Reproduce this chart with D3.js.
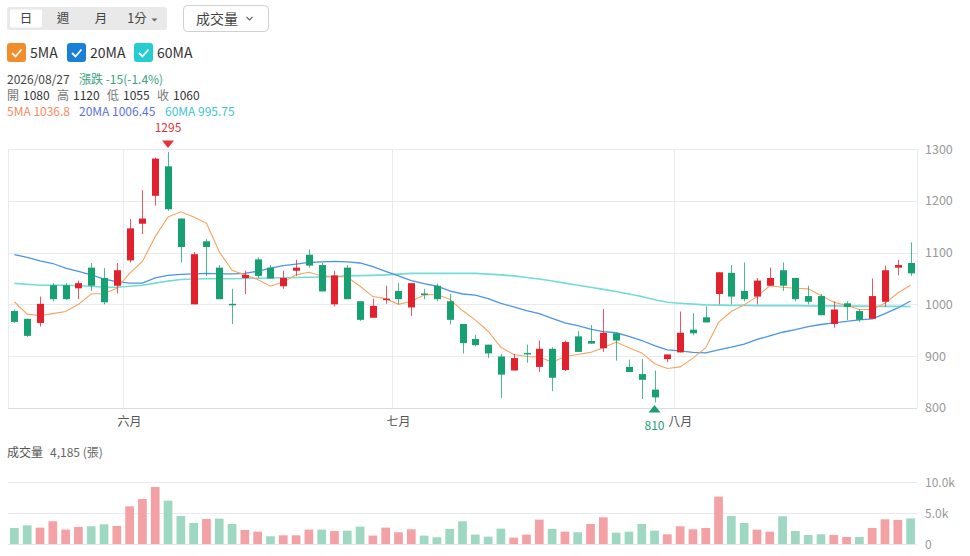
<!DOCTYPE html>
<html>

<head>
    <meta charset="utf-8">
    <style type="text/css">
        body {
            margin: 0;
            background: #fff;
        }

        svg text {
            font-family: "Noto Sans CJK TC", "Noto Sans", sans-serif;
        }

        .grid line {
            stroke: #e8eaf0;
            stroke-width: 1;
        }
    </style>
</head>

<body>
    <div id="canvas"></div>

    <script type="text/javascript" src="https://cdn.jsdelivr.net/npm/d3@7/dist/d3.min.js"></script>
    <script type="text/javascript">
        // daily candles
        var open = [987, 972, 964, 1037, 1037, 1031, 1071, 1051, 1036, 1085, 1156, 1210, 1267, 1166, 1000, 1122, 1071, 1001,
            1051, 1087, 1071, 1035, 1065, 1096, 1076, 1000, 1071, 1006, 974, 1010, 1026, 994, 1021, 1036, 1006, 962,
            933, 922, 899, 872, 906, 879, 914, 873, 938, 929, 915, 944, 879, 865, 835, 894, 907, 951,
            975, 1020, 1061, 1026, 1015, 1036, 1066, 1051, 1016, 1016, 962, 1002, 987, 972, 1005, 1071, 1080];
        var close = [966, 939, 1001, 1010, 1010, 1041, 1036, 1004, 1066, 1147, 1166, 1282, 1184, 1111, 1097, 1111, 1010, 999,
            1057, 1055, 1050, 1051, 1071, 1075, 1025, 1056, 1010, 970, 997, 1011, 1010, 1041, 1020, 1010, 970, 925,
            921, 905, 864, 896, 905, 914, 858, 927, 908, 924, 945, 930, 869, 854, 820, 903, 945, 944,
            965, 1062, 1015, 1010, 1046, 1051, 1036, 1010, 1005, 979, 990, 995, 970, 1016, 1066, 1076, 1060];
        var high = [990, 972, 1015, 1041, 1041, 1046, 1080, 1070, 1080, 1165, 1221, 1284, 1295, 1166, 1101, 1126, 1076, 1030,
            1065, 1091, 1076, 1065, 1086, 1106, 1080, 1065, 1076, 1006, 1011, 1036, 1041, 1041, 1030, 1040, 1020, 962,
            941, 922, 904, 904, 922, 930, 917, 930, 948, 960, 991, 945, 893, 894, 872, 903, 986, 983,
            996, 1062, 1076, 1081, 1051, 1071, 1081, 1051, 1036, 1020, 1006, 1006, 991, 1050, 1075, 1086, 1120];
        var low = [964, 937, 957, 1006, 1009, 1010, 1026, 1000, 1021, 1081, 1136, 1191, 1181, 1081, 1000, 1055, 1010, 962,
            1020, 1051, 1049, 1030, 1055, 1071, 1025, 996, 1010, 968, 974, 1001, 1000, 978, 1010, 1006, 961, 905,
            919, 896, 819, 872, 887, 869, 832, 871, 908, 924, 908, 891, 869, 817, 810, 888, 907, 940,
            965, 1000, 1000, 1006, 1000, 1036, 1026, 1006, 1000, 979, 955, 970, 966, 972, 995, 1056, 1055];

        // moving averages as drawn
        var ma5 = [1005, 981, 978, 982, 986, 1000, 1020, 1021, 1031, 1060, 1083, 1131, 1169, 1179, 1169, 1157, 1102, 1066,
            1057, 1048, 1035, 1043, 1057, 1062, 1055, 1054, 1053, 1035, 1015, 1011, 1000, 1006, 1018, 1019, 1010, 988,
            970, 948, 917, 903, 899, 898, 888, 899, 903, 907, 916, 927, 916, 906, 885, 876, 879, 896,
            916, 965, 986, 999, 1015, 1036, 1033, 1031, 1030, 1017, 1004, 998, 990, 990, 1002, 1022, 1036.8];
        var ma20 = [1096, 1091, 1084, 1079, 1070, 1064, 1057, 1049, 1044, 1041, 1041, 1051, 1056, 1058, 1059, 1060, 1059, 1059,
            1060, 1064, 1070, 1075, 1078, 1081, 1082, 1083, 1082, 1080, 1073, 1064, 1055, 1046, 1040, 1035, 1026, 1020,
            1018, 1011, 1002, 995, 988, 982, 973, 964, 959, 952, 947, 945, 938, 930, 920, 912, 910, 907,
            906, 912, 917, 923, 932, 939, 946, 951, 957, 961, 964, 967, 970, 972, 982, 993, 1006.45];
        var ma60 = [1040.5, 1039, 1037, 1037, 1037, 1036, 1035, 1033, 1033, 1035, 1037, 1041, 1045, 1048, 1049, 1049.5, 1049.5, 1049.5,
            1050, 1050.5, 1051, 1051.5, 1052, 1052.5, 1053, 1054, 1055, 1055.5, 1056, 1057, 1058.5, 1060, 1060, 1060, 1060, 1060,
            1060, 1058.5, 1057, 1055, 1052, 1049, 1045, 1041, 1037, 1033, 1029, 1025, 1020, 1015, 1009, 1004, 1002, 1000.5,
            999, 998.5, 998, 998, 997.5, 997.5, 997.5, 997.5, 997, 997, 997, 996.5, 996.5, 996, 996, 996, 995.75];

        // volume in 張, and whether the day closed up (red) or down (green)
        var volume = [2630, 3060, 2690, 3710, 2370, 2800, 2900, 3230, 2960, 6130, 7300, 9250, 7040, 4570, 3440, 4090, 4140, 3280,
            2310, 2040, 1290, 1450, 1450, 2370, 2370, 2150, 2200, 2850, 1400, 2690, 1940, 2420, 1400, 1130, 2470, 3710,
            1560, 1240, 2530, 1080, 1560, 3980, 2470, 2040, 1940, 3280, 4350, 1880, 2040, 3280, 2200, 1610, 2900, 2420,
            2630, 7690, 4570, 3440, 2370, 2040, 4520, 2150, 1510, 1610, 1510, 1180, 1180, 2630, 4030, 3920, 4185];
        var volUp = [0, 0, 1, 1, 1, 1, 0, 0, 1, 1, 1, 1, 0, 0, 0, 1, 0, 0,
            1, 1, 0, 1, 1, 1, 0, 1, 0, 0, 1, 1, 1, 1, 0, 0, 0, 0,
            0, 0, 0, 1, 1, 1, 0, 1, 0, 1, 1, 0, 0, 0, 0, 1, 1, 1,
            1, 1, 0, 0, 1, 1, 0, 0, 0, 0, 1, 1, 0, 1, 1, 1, 0];

        var monthLabels = ['六月', '七月', '八月'];
        var monthStart = [9, 30, 52];
        var priceTicks = [800, 900, 1000, 1100, 1200, 1300];
        var volTicks = [0, 5000, 10000];
        var volTickLabels = ['0', '5.0k', '10.0k'];

        var RED = '#e3212d', GREEN = '#17a072';
        var RED_V = '#f3a1a5', GREEN_V = '#9fd8c2';

        var svg = d3.select('#canvas').append('svg')
            .attr('width', 970)
            .attr('height', 556);

        var idx = d3.range(open.length);
        var x = d3.scaleBand().domain(idx).range([8, 917]);
        var cx = function (i) { return x(i) + x.bandwidth() / 2; };
        var y = d3.scaleLinear().domain([800, 1300]).range([407.7, 149.3]);
        var yv = d3.scaleLinear().domain([0, 10000]).range([544.3, 482.3]);

        // ---- top controls ----
        var ctrl = svg.append('g');
        ctrl.append('rect').attr('x', 7).attr('y', 7).attr('width', 160).attr('height', 23).attr('rx', 3).attr('fill', '#e9e9e9');
        ctrl.append('rect').attr('x', 10).attr('y', 9.5).attr('width', 32).attr('height', 18).attr('rx', 2).attr('fill', '#fff');
        [['日', 26], ['週', 63], ['月', 101], ['1分', 137]].forEach(function (t) {
            ctrl.append('text').attr('x', t[1]).attr('y', 23).attr('text-anchor', 'middle')
                .attr('font-size', 12.5).attr('fill', '#444').text(t[0]);
        });
        ctrl.append('path').attr('d', 'M151.5,18.5 L157.5,18.5 L154.5,21.5 Z').attr('fill', '#666');

        ctrl.append('rect').attr('x', 183.5).attr('y', 5.5).attr('width', 85).attr('height', 26).attr('rx', 4)
            .attr('fill', '#fff').attr('stroke', '#cfcfcf');
        ctrl.append('text').attr('x', 196).attr('y', 24).attr('font-size', 14).attr('fill', '#444').text('成交量');
        ctrl.append('path').attr('d', 'M246.5,17 L249.5,20 L252.5,17').attr('fill', 'none').attr('stroke', '#666').attr('stroke-width', 1.2);

        // ---- legend ----
        var legend = [['5MA', '#f28d2c', 7, 30], ['20MA', '#1a7fd6', 67, 90], ['60MA', '#23cdd0', 134, 157]];
        legend.forEach(function (l) {
            svg.append('rect').attr('x', l[2]).attr('y', 43).attr('width', 19).attr('height', 19).attr('rx', 3).attr('fill', l[1]);
            svg.append('path').attr('d', 'M' + (l[2] + 5) + ',53 l3.5,3.5 l6,-7')
                .attr('fill', 'none').attr('stroke', '#fff').attr('stroke-width', 1.8);
            svg.append('text').attr('x', l[3]).attr('y', 58).attr('font-size', 14).attr('fill', '#333').text(l[0]);
        });

        // ---- info lines ----
        var last = open.length - 1;
        var info = svg.append('g').attr('font-size', 12);
        info.append('text').attr('x', 7).attr('y', 84).attr('fill', '#444').text('2026/08/27');
        info.append('text').attr('x', 79).attr('y', 84).attr('fill', '#3aa17f').text('漲跌 -15(-1.4%)');
        var ohlc = [['開', open[last], 7], ['高', high[last], 57], ['低', low[last], 107], ['收', close[last], 157]];
        ohlc.forEach(function (o) {
            info.append('text').attr('x', o[2]).attr('y', 100).attr('fill', '#777').text(o[0]);
            info.append('text').attr('x', o[2] + 16).attr('y', 100).attr('fill', '#333').text(o[1]);
        });
        info.append('text').attr('x', 7).attr('y', 116).attr('fill', '#f58a62').text('5MA ' + ma5[last]);
        info.append('text').attr('x', 79).attr('y', 116).attr('fill', '#5a72e0').text('20MA ' + ma20[last]);
        info.append('text').attr('x', 165).attr('y', 116).attr('fill', '#3fc5cf').text('60MA ' + ma60[last]);

        // ---- price grid ----
        var grid = svg.append('g').attr('class', 'grid');
        grid.selectAll('line.h').data(priceTicks).enter().append('line')
            .attr('x1', 8).attr('x2', 917)
            .attr('y1', function (d) { return Math.round(y(d)) + 0.5; })
            .attr('y2', function (d) { return Math.round(y(d)) + 0.5; });
        grid.selectAll('line.m').data(monthStart).enter().append('line')
            .attr('x1', function (d) { return Math.round(x(d)) + 0.5; })
            .attr('x2', function (d) { return Math.round(x(d)) + 0.5; })
            .attr('y1', y(1300)).attr('y2', y(800));
        grid.append('line').attr('x1', 917.5).attr('x2', 917.5).attr('y1', y(1300)).attr('y2', y(800));
        grid.append('line').attr('x1', 8.5).attr('x2', 8.5).attr('y1', y(1300)).attr('y2', y(800));
        svg.append('line').attr('x1', 8).attr('x2', 917).attr('y1', 408.5).attr('y2', 408.5).attr('stroke', '#d8dbe3');

        var yAxis = svg.append('g').attr('transform', 'translate(925,0)')
            .call(d3.axisRight(y).tickValues(priceTicks).tickSize(0).tickPadding(0).tickFormat(d3.format('d')));
        yAxis.select('.domain').remove();
        yAxis.selectAll('text').attr('fill', '#999').attr('font-size', 12.5).attr('font-family', '"Noto Sans", sans-serif');

        svg.selectAll('text.month').data(monthStart).enter().append('text')
            .attr('x', function (d) { return cx(d); }).attr('y', 426)
            .attr('text-anchor', 'middle').attr('font-size', 12).attr('fill', '#555')
            .text(function (d, i) { return monthLabels[i]; });

        // ---- moving averages ----
        var maLine = function (arr) {
            return d3.line().x(function (d, i) { return cx(i); }).y(function (d) { return y(d); })(arr);
        };
        svg.append('path').attr('d', maLine(ma60)).attr('fill', 'none').attr('stroke', '#74dcd8').attr('stroke-width', 1.6);
        svg.append('path').attr('d', maLine(ma20)).attr('fill', 'none').attr('stroke', '#4c95e4').attr('stroke-width', 1.3);
        svg.append('path').attr('d', maLine(ma5)).attr('fill', 'none').attr('stroke', '#f6a562').attr('stroke-width', 1.1);

        // ---- candles ----
        var bodyW = 7;
        var candle = svg.selectAll('g.candle').data(idx).enter().append('g');
        candle.append('line')
            .attr('x1', function (i) { return Math.round(cx(i)) + 0.5; })
            .attr('x2', function (i) { return Math.round(cx(i)) + 0.5; })
            .attr('y1', function (i) { return y(high[i]); })
            .attr('y2', function (i) { return y(low[i]); })
            .attr('stroke', function (i) { return close[i] >= open[i] ? RED : GREEN; })
            .attr('stroke-opacity', 0.75);
        candle.append('rect')
            .attr('x', function (i) { return Math.round(cx(i)) + 0.5 - bodyW / 2; })
            .attr('width', bodyW)
            .attr('y', function (i) { return y(Math.max(open[i], close[i])); })
            .attr('height', function (i) { return Math.max(1.5, Math.abs(y(open[i]) - y(close[i]))); })
            .attr('fill', function (i) { return close[i] >= open[i] ? RED : GREEN; });

        // high / low markers
        var hi = d3.maxIndex(high), lo = d3.minIndex(low);
        svg.append('path')
            .attr('d', 'M' + (cx(hi) - 6) + ',140.5 L' + (cx(hi) + 6) + ',140.5 L' + cx(hi) + ',148 Z')
            .attr('fill', '#e5323c');
        svg.append('text').attr('x', cx(hi)).attr('y', 132).attr('text-anchor', 'middle')
            .attr('font-size', 12).attr('fill', '#e5323c').text(high[hi]);
        svg.append('path')
            .attr('d', 'M' + (cx(lo) - 6) + ',412.5 L' + (cx(lo) + 6) + ',412.5 L' + cx(lo) + ',405 Z')
            .attr('fill', '#1e9e72');
        svg.append('text').attr('x', cx(lo)).attr('y', 430).attr('text-anchor', 'middle')
            .attr('font-size', 12).attr('fill', '#1e9e72').text(low[lo]);

        // ---- volume ----
        svg.append('text').attr('x', 7).attr('y', 457).attr('font-size', 12).attr('fill', '#555').text('成交量');
        svg.append('text').attr('x', 50).attr('y', 457).attr('font-size', 12).attr('fill', '#666')
            .text(d3.format(',')(volume[last]) + ' (張)');

        var vgrid = svg.append('g').attr('class', 'grid');
        vgrid.selectAll('line').data([5000, 10000]).enter().append('line')
            .attr('x1', 8).attr('x2', 917)
            .attr('y1', function (d) { return Math.round(yv(d)) + 0.5; })
            .attr('y2', function (d) { return Math.round(yv(d)) + 0.5; });

        var xv = x.copy().paddingInner(0.32).paddingOuter(0.16);
        svg.selectAll('rect.vol').data(idx).enter().append('rect')
            .attr('x', function (i) { return xv(i); })
            .attr('width', xv.bandwidth())
            .attr('y', function (i) { return yv(volume[i]); })
            .attr('height', function (i) { return yv(0) - yv(volume[i]); })
            .attr('fill', function (i) { return volUp[i] ? RED_V : GREEN_V; });
        svg.append('line').attr('x1', 8).attr('x2', 917).attr('y1', 544.5).attr('y2', 544.5).attr('stroke', '#e3e6ec');

        var vAxis = svg.append('g').attr('transform', 'translate(925,0)')
            .call(d3.axisRight(yv).tickValues(volTicks).tickSize(0).tickPadding(0)
                .tickFormat(function (d, i) { return volTickLabels[i]; }));
        vAxis.select('.domain').remove();
        vAxis.selectAll('text').attr('fill', '#999').attr('font-size', 12).attr('font-family', '"Noto Sans", sans-serif');
    </script>
</body>

</html>
